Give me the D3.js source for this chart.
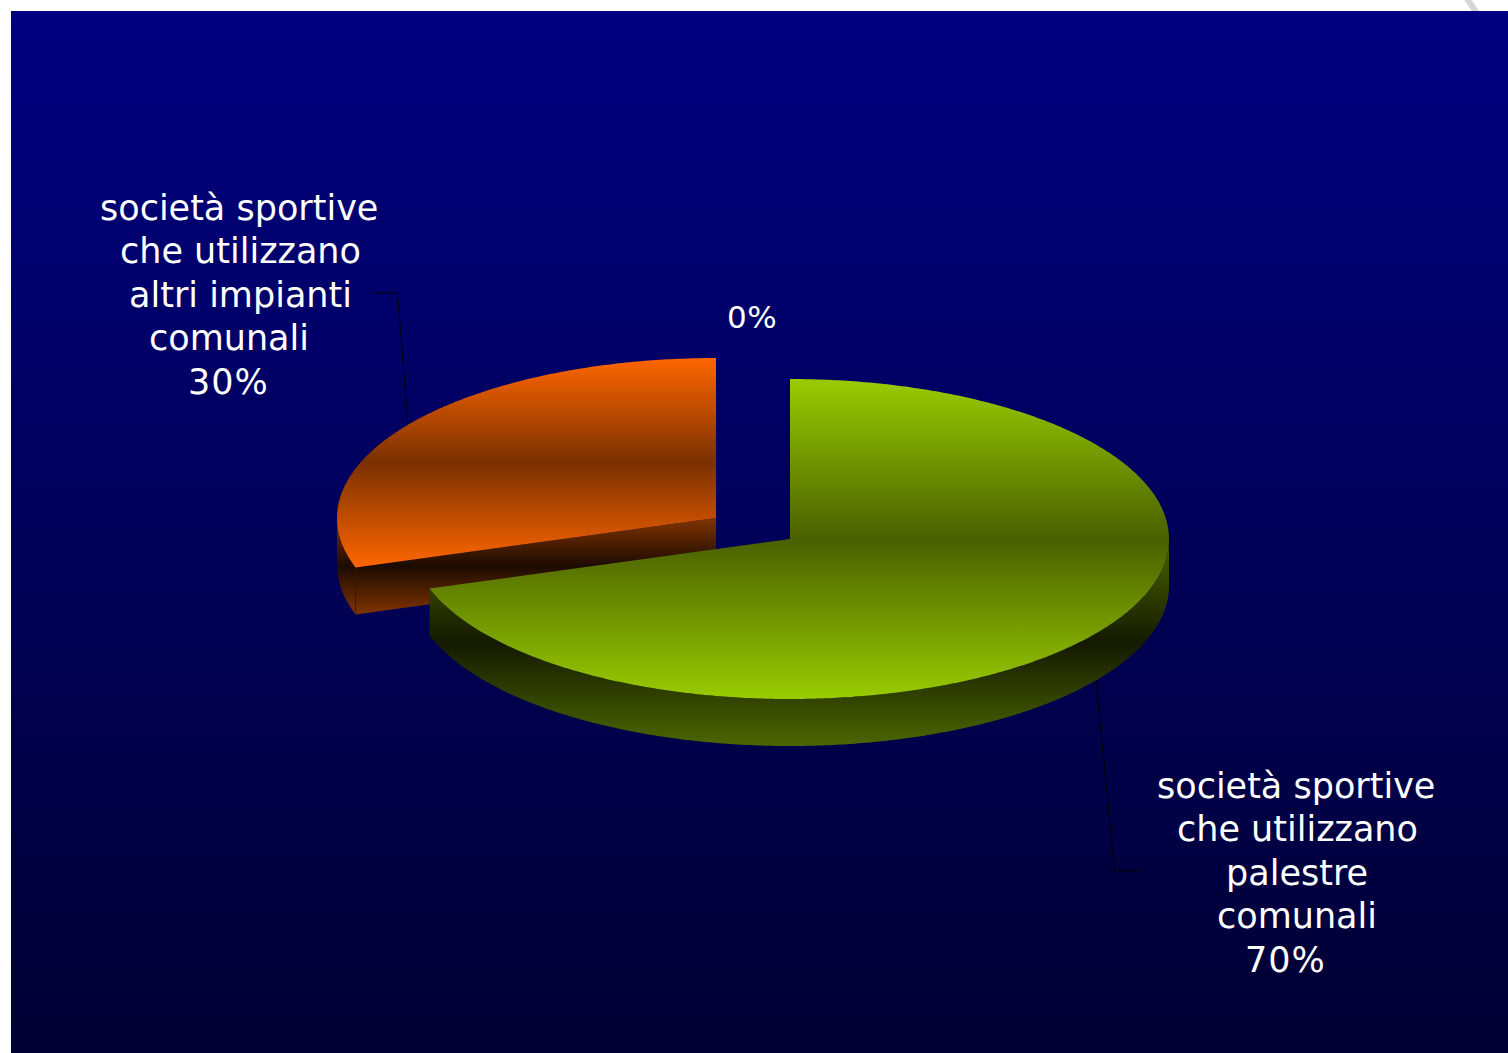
<!DOCTYPE html>
<html>
<head>
<meta charset="utf-8">
<script src="https://cdn.jsdelivr.net/npm/d3@7"></script>
<style>
  html, body { margin: 0; padding: 0; background: #fff; overflow: hidden; }
  text { font-family: "DejaVu Sans", Verdana, sans-serif; fill: #fff; }
</style>
</head>
<body>
<div id="chart"></div>
<script>
// Chart data
const categories = ['palestre comunali', 'altri impianti comunali'];
const values = [70, 30];
const zeroLabel = '0%';
const linesPalestre = ['società sportive', 'che utilizzano', 'palestre', 'comunali', '70%'];
const linesImpianti = ['società sportive', 'che utilizzano', 'altri impianti', 'comunali', '30%'];

const width = 1508;
const height = 1053;

const svg = d3.select('#chart').append('svg')
  .attr('width', width)
  .attr('height', height)
  .style('display', 'block');

const defs = svg.append('defs');

// Three stop vertical gradient: edge colour, middle colour, edge colour
function addGradient(id, edge, mid) {
  const g = defs.append('linearGradient')
    .attr('id', id)
    .attr('x1', 0).attr('y1', 0)
    .attr('x2', 0).attr('y2', 1);
  g.append('stop').attr('offset', '0%').attr('stop-color', edge);
  g.append('stop').attr('offset', '50%').attr('stop-color', mid);
  g.append('stop').attr('offset', '100%').attr('stop-color', edge);
}

addGradient('faceGreen', '#99cc00', '#4a6000');
addGradient('wallGreen', '#4d6600', '#141900');
addGradient('faceOrange', '#ff6600', '#7a3000');
addGradient('wallOrange', '#803300', '#1c0b00');

const bg = defs.append('linearGradient')
  .attr('id', 'bg')
  .attr('x1', 0).attr('y1', 0)
  .attr('x2', 0).attr('y2', 1);
bg.append('stop').attr('offset', '0%').attr('stop-color', '#000080');
bg.append('stop').attr('offset', '100%').attr('stop-color', '#000033');

// Bit of grey line poking out at the top right, then the background panel over it
svg.append('line')
  .attr('x1', 1466).attr('y1', -3)
  .attr('x2', 1480).attr('y2', 18)
  .attr('stroke', '#d6d6d6')
  .attr('stroke-width', 6);

svg.append('rect')
  .attr('x', 11).attr('y', 11)
  .attr('width', width - 11).attr('height', height - 11)
  .attr('fill', 'url(#bg)');

// Pie geometry
const rx = 379;
const ry = 160;
const depth = 47;
const arcs = d3.pie().sort(null)(values);
const centers = [{ x: 790, y: 539 }, { x: 716, y: 518 }];
const faceFills = ['url(#faceGreen)', 'url(#faceOrange)'];
const wallFills = ['url(#wallGreen)', 'url(#wallOrange)'];

const px = (c, a) => c.x + rx * Math.sin(a);
const py = (c, a) => c.y - ry * Math.cos(a);
const line = d3.line();

function rimPoints(c, a0, a1, dy) {
  const n = Math.ceil(Math.abs(a1 - a0) / 0.01);
  return d3.range(n + 1).map(i => {
    const a = a0 + (a1 - a0) * i / n;
    return [px(c, a), py(c, a) + dy];
  });
}

// Leader lines
const leaders = [
  [[1096, 680], [1114.5, 871], [1139, 871]],
  [[408, 424], [397.5, 293], [373, 293]]
];
svg.append('g').selectAll('path')
  .data(leaders)
  .enter().append('path')
  .attr('d', d => line(d))
  .attr('fill', 'none')
  .attr('stroke', '#000')
  .attr('stroke-width', 1);

// Draw the orange slice first, the green one sits in front of it
[1, 0].forEach(i => {
  const d = arcs[i];
  const c = centers[i];
  const g = svg.append('g').attr('class', 'slice').attr('data-name', categories[i]);

  // Outer side: only the part of the rim facing the viewer
  const wallStart = Math.max(d.startAngle, Math.PI / 2);
  const wallEnd = Math.min(d.endAngle, Math.PI * 3 / 2);
  let wallPath = line(rimPoints(c, wallStart, wallEnd, 0)
    .concat(rimPoints(c, wallEnd, wallStart, depth))) + 'Z';

  if (i === 1) {
    // cut side of the orange slice, from centre out to the rim
    const sx = px(c, d.startAngle);
    const sy = py(c, d.startAngle);
    wallPath += line([[c.x, c.y], [sx, sy], [sx, sy + depth], [c.x, c.y + depth]]) + 'Z';
  }
  g.append('path')
    .attr('d', wallPath)
    .attr('fill', wallFills[i]);

  if (i === 1) {
    g.append('line')
      .attr('x1', px(c, d.startAngle)).attr('y1', py(c, d.startAngle))
      .attr('x2', px(c, d.startAngle)).attr('y2', py(c, d.startAngle) + depth)
      .attr('stroke', '#3a1700')
      .attr('stroke-width', 0.8);
  }

  // Top face
  const face = [[c.x, c.y]].concat(rimPoints(c, d.startAngle, d.endAngle, 0));
  g.append('path')
    .attr('d', line(face) + 'Z')
    .attr('fill', faceFills[i]);
});

// Labels
const labelBaselines = d3.scaleLinear().domain([0, 4]);
const labelBlocks = [
  { lines: linesPalestre, starts: [1157, 1177, 1226, 1217, 1245], y0: 798, y1: 972, clipX: 1435 },
  { lines: linesImpianti, starts: [100, 120, 129, 149, 188], y0: 220, y1: 394, clipX: 377 }
];

labelBlocks.forEach((block, b) => {
  labelBaselines.range([block.y0, block.y1]);
  defs.append('clipPath').attr('id', 'clip' + b)
    .append('rect')
    .attr('x', 0).attr('y', 0)
    .attr('width', block.clipX).attr('height', height);
  svg.append('g')
    .attr('clip-path', `url(#clip${b})`)
    .selectAll('text')
    .data(block.lines)
    .enter().append('text')
    .attr('x', (d, i) => block.starts[i])
    .attr('y', (d, i) => Math.floor(labelBaselines(i)))
    .attr('font-size', 35)
    .attr('letter-spacing', d => d.endsWith('%') ? 1 : 0)
    .text(d => d);
});

svg.append('text')
  .attr('x', 727)
  .attr('y', 328)
  .attr('font-size', 31)
  .attr('letter-spacing', 0.5)
  .text(zeroLabel);
</script>
</body>
</html>
